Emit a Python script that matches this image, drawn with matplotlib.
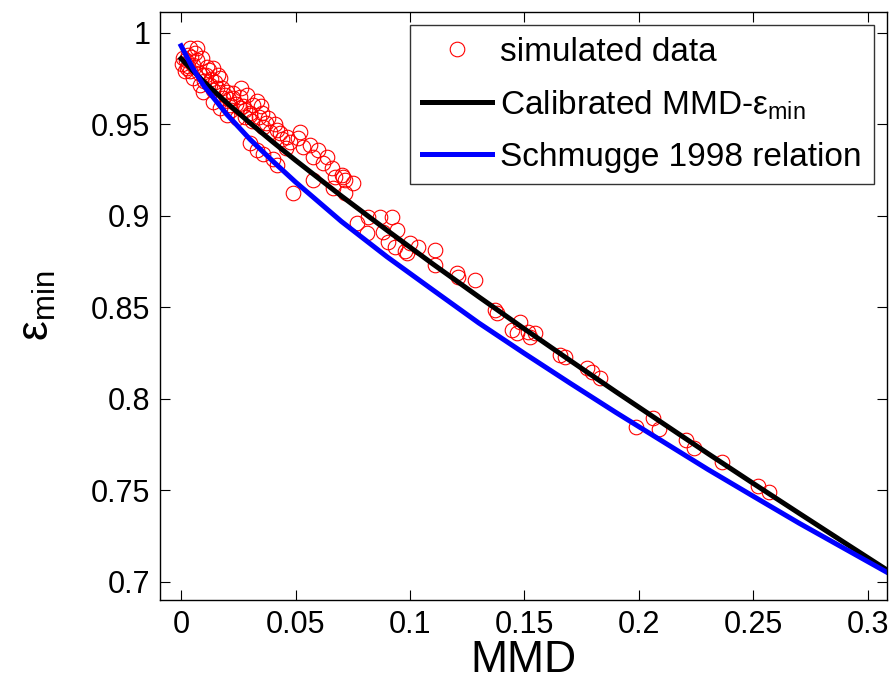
import matplotlib
matplotlib.use('Agg')
import matplotlib.pyplot as plt

plt.rcParams['font.family'] = ['Liberation Sans', 'DejaVu Sans']
plt.rcParams['mathtext.fontset'] = 'custom'
plt.rcParams['mathtext.rm'] = 'Liberation Sans'

# simulated data (MMD, emissivity min)
sim_mmd = [
    0.0010, 0.0039, 0.0069, 0.0054, 0.0025, 0.0090, 0.0112, 0.0097, 0.0141, 0.0170,
    0.0127, 0.0083, 0.0156, 0.0200, 0.0185, 0.0228, 0.0214, 0.0258, 0.0301, 0.0141,
    0.0170, 0.0200, 0.0243, 0.0316, 0.0097, 0.0054, 0.0005, 0.0015, 0.0030, 0.0045,
    0.0060, 0.0020, 0.0030, 0.0040, 0.0070, 0.0080, 0.0100, 0.0110, 0.0120, 0.0130,
    0.0140, 0.0150, 0.0160, 0.0180, 0.0190, 0.0210, 0.0220, 0.0240, 0.0270, 0.0280,
    0.0310, 0.0340, 0.0370, 0.0390, 0.0410, 0.0440, 0.0460, 0.0260, 0.0290, 0.0330,
    0.0350,
    0.0227, 0.0258, 0.0279, 0.0301, 0.0354, 0.0380, 0.0358, 0.0419, 0.0432, 0.0463,
    0.0476, 0.0520, 0.0511, 0.0533, 0.0563, 0.0598, 0.0576, 0.0638, 0.0620, 0.0659,
    0.0703, 0.0716, 0.0300, 0.0330, 0.0360, 0.0400, 0.0419,
    0.0489, 0.0576, 0.0672, 0.0707, 0.0751, 0.0716, 0.0664,
    0.0817, 0.0869, 0.0921, 0.0769, 0.0812, 0.0882, 0.0943, 0.0934, 0.1000, 0.1035,
    0.0987, 0.1109, 0.1109, 0.1205, 0.1210, 0.1284, 0.0904, 0.0978,
    0.1371, 0.1380, 0.1480, 0.1445, 0.1467, 0.1515, 0.1546, 0.1524,
    0.1655, 0.1677, 0.1773, 0.1795, 0.1830,
    0.1987, 0.2061, 0.2087, 0.2205, 0.2240, 0.2362, 0.2520, 0.2568,
]
sim_emis = [
    0.9862, 0.9916, 0.9916, 0.9825, 0.9807, 0.9862, 0.9816, 0.9770, 0.9807, 0.9752,
    0.9716, 0.9716, 0.9698, 0.9679, 0.9643, 0.9643, 0.9607, 0.9589, 0.9552, 0.9625,
    0.9589, 0.9552, 0.9534, 0.9607, 0.9679, 0.9752, 0.9830, 0.9790, 0.9880, 0.9870,
    0.9890, 0.9850, 0.9820, 0.9790, 0.9850, 0.9780, 0.9740, 0.9770, 0.9800, 0.9750,
    0.9690, 0.9730, 0.9770, 0.9700, 0.9660, 0.9640, 0.9580, 0.9610, 0.9600, 0.9540,
    0.9520, 0.9540, 0.9510, 0.9460, 0.9500, 0.9420, 0.9370, 0.9700, 0.9660, 0.9630,
    0.9600,
    0.9672, 0.9650, 0.9579, 0.9563, 0.9563, 0.9536, 0.9486, 0.9470, 0.9454, 0.9432,
    0.9404, 0.9459, 0.9426, 0.9377, 0.9388, 0.9361, 0.9322, 0.9322, 0.9290, 0.9262,
    0.9224, 0.9197, 0.9400, 0.9360, 0.9340, 0.9310, 0.9279,
    0.9126, 0.9197, 0.9213, 0.9213, 0.9180, 0.9126, 0.9153,
    0.8995, 0.8995, 0.8995, 0.8962, 0.8907, 0.8913, 0.8923, 0.8831, 0.8852, 0.8831,
    0.8798, 0.8814, 0.8732, 0.8689, 0.8667, 0.8650, 0.8860, 0.8810,
    0.8486, 0.8470, 0.8421, 0.8377, 0.8361, 0.8366, 0.8361, 0.8339,
    0.8240, 0.8230, 0.8169, 0.8147, 0.8115,
    0.7847, 0.7896, 0.7836, 0.7776, 0.7732, 0.7656, 0.7525, 0.7492,
]

# calibrated MMD-emin relation
cal_mmd = [0.0, 0.005, 0.01, 0.02, 0.03, 0.04, 0.05, 0.07, 0.09, 0.11, 0.13, 0.15,
           0.17, 0.19, 0.21, 0.23, 0.25, 0.27, 0.29, 0.31]
cal_emis = [0.986, 0.9795, 0.9733, 0.9618, 0.9509, 0.9405, 0.9304, 0.9109, 0.8921,
            0.8737, 0.8558, 0.8382, 0.8209, 0.8038, 0.787, 0.7702, 0.7537, 0.7374,
            0.7212, 0.7051]

# Schmugge 1998 relation
sch_mmd = [0.0, 0.005, 0.01, 0.02, 0.03, 0.04, 0.05, 0.07, 0.09, 0.11, 0.13, 0.15,
           0.17, 0.19, 0.21, 0.23, 0.25, 0.27, 0.29, 0.31]
sch_emis = [0.993, 0.981, 0.971, 0.9555, 0.942, 0.930, 0.9185, 0.897, 0.8776, 0.8595,
            0.8415, 0.8248, 0.8085, 0.7925, 0.777, 0.7615, 0.7467, 0.732, 0.718, 0.704]

fig = plt.figure(figsize=(8.94, 6.87), dpi=100)
ax = fig.add_axes([0.179, 0.1266, 0.813, 0.856])

ax.plot(sim_mmd, sim_emis, 'o', mfc='none', mec='red', ms=10.5, mew=0.8,
        label='simulated data')
ax.plot(cal_mmd, cal_emis, '-', color='black', lw=3.6,
        label='Calibrated MMD-ε$_{\\mathrm{min}}$')
ax.plot(sch_mmd, sch_emis, '-', color='blue', lw=3.6,
        label='Schmugge 1998 relation')

ax.set_xlim(-0.0092, 0.3083)
ax.set_ylim(0.69, 1.0115)

xt = [0, 0.05, 0.1, 0.15, 0.2, 0.25, 0.3]
yt = [0.7, 0.75, 0.8, 0.85, 0.9, 0.95, 1.0]
ax.set_xticks(xt)
ax.set_xticklabels(['0', '0.05', '0.1', '0.15', '0.2', '0.25', '0.3'])
ax.set_yticks(yt)
ax.set_yticklabels(['0.7', '0.75', '0.8', '0.85', '0.9', '0.95', '1'])
ax.tick_params(direction='in', length=7, width=0.8, top=True, right=True,
               labelsize=22, pad=7)
for s in ax.spines.values():
    s.set_linewidth(1.0)

ax.set_xlabel('MMD', fontsize=32, labelpad=0)
ax.set_ylabel('ε$_{\\mathrm{min}}$', fontsize=32, labelpad=24)

leg = ax.legend(loc='upper right', fontsize=24, frameon=True, fancybox=False,
                edgecolor='black', handlelength=2.1, handletextpad=0.25,
                borderaxespad=0.4, labelspacing=0.6, borderpad=0.35)
leg.get_frame().set_linewidth(1.0)

fig.savefig('out.png', dpi=100)
